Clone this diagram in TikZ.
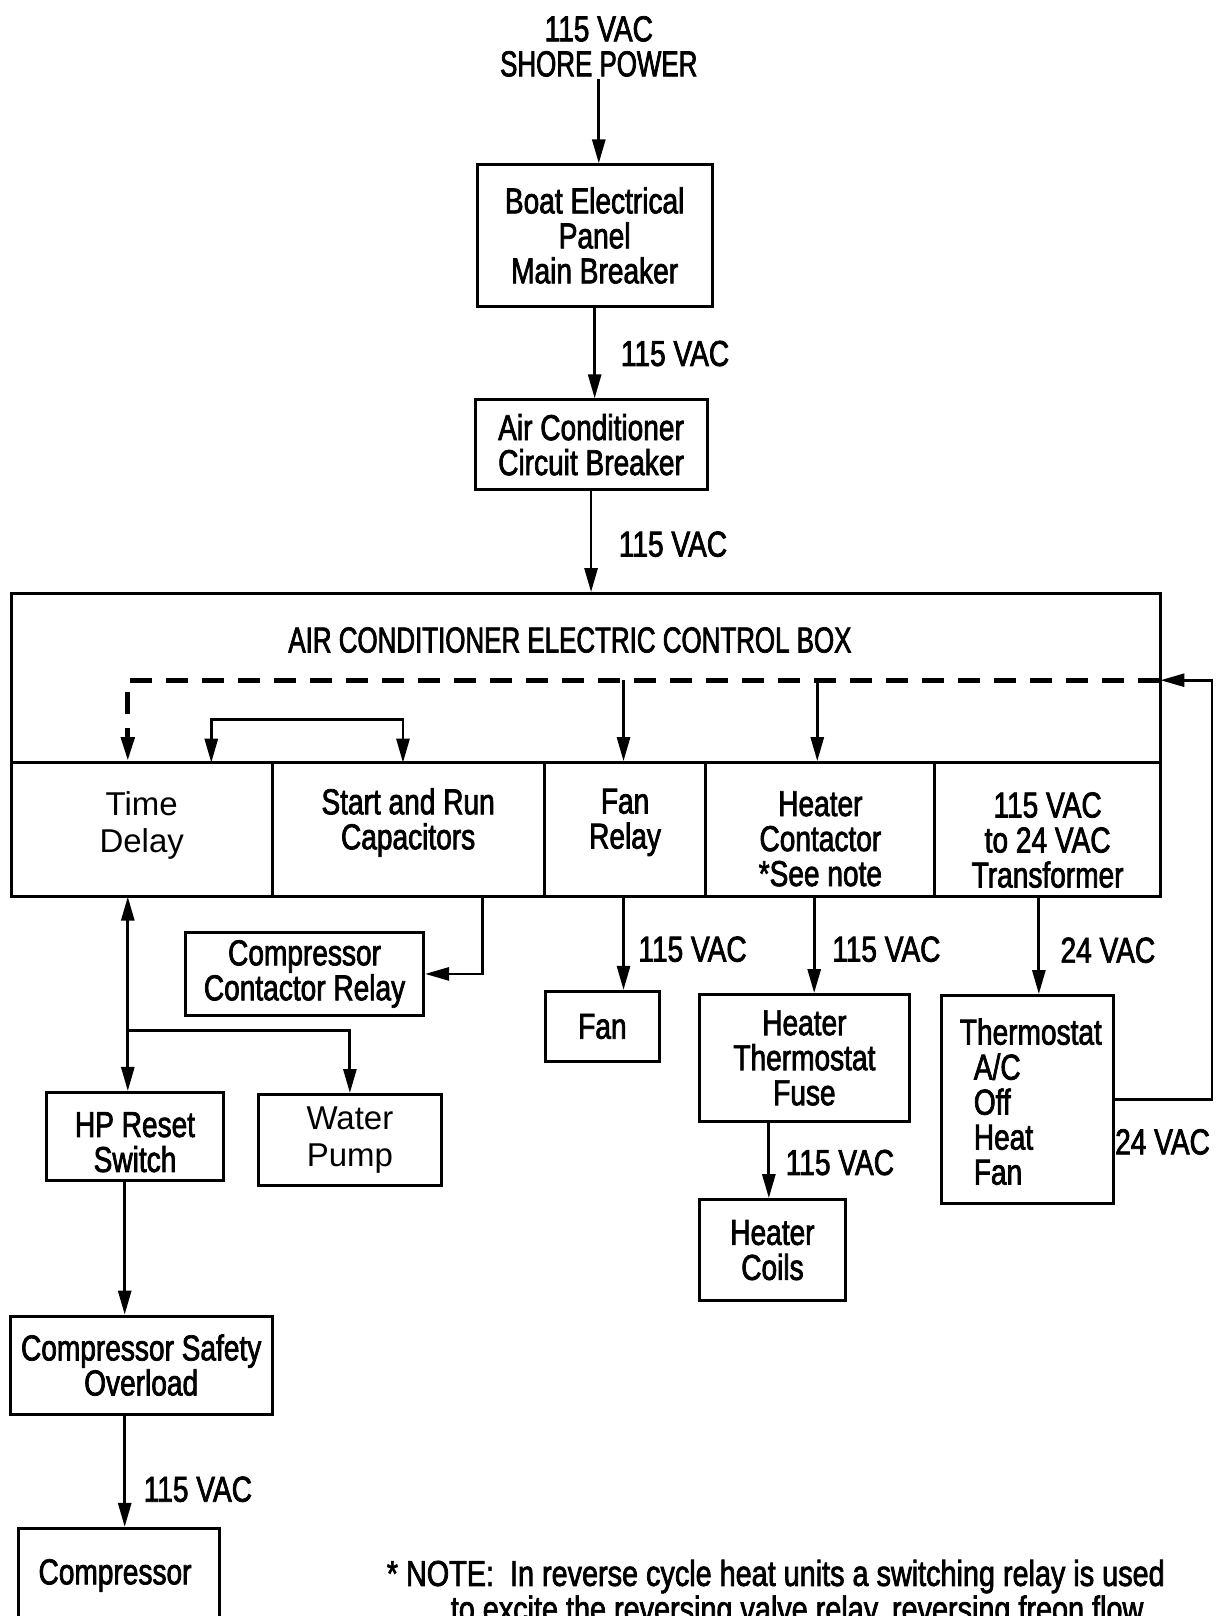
\documentclass[tikz,border=0pt]{standalone}
\usepackage{fontspec}
\setmainfont{Liberation Sans}[FakeStretch=0.78,FakeBold=2]
\newfontfamily\capsfont{Liberation Sans}[FakeStretch=0.72,FakeBold=2]
\newfontfamily\notefont{Liberation Sans}[FakeStretch=0.80,FakeBold=2]
\newfontfamily\widefont{Liberation Sans}
\usetikzlibrary{arrows.meta}
\newcommand\lblfont{\fontsize{18}{17.5}\selectfont}
\newcommand\tdfont{\widefont\fontsize{16.5}{18.5}\selectfont}
\begin{document}
\begin{tikzpicture}[x=0.5153pt,y=-0.5153pt,
  box/.style={draw,line width=1.5pt,inner sep=0pt,align=center,font=\lblfont},
  sz/.style 2 args={minimum width=#1*0.5153pt,minimum height=#2*0.5153pt},
  plain/.style={align=center,font=\lblfont,inner sep=1pt},
  wide/.style={font=\tdfont},
  tip/.tip={Triangle[length=12pt,width=6.5pt]},
  arr/.style={line width=1.4pt,-tip},
  arrb/.style={line width=1.4pt,tip-tip},
  dsh/.style={line width=2.4pt,dash pattern=on 11pt off 7pt,-tip}]
\useasboundingbox (0,0) rectangle (1181,1568);
% top chain
\node[plain] (shore) at (581,45) {115 VAC\\{\capsfont SHORE POWER}};
\node[box,sz={228}{137}] (b1) at (577,228.5) {Boat Electrical\\Panel\\Main Breaker};
\node[box,sz={225}{87}] (b2) at (573.5,431.5) {Air Conditioner\\Circuit Breaker};
\node[plain] (v1) at (655,343) {115 VAC};
\node[plain] (v2) at (653,528) {115 VAC};
% control box
\node[box,sz={1115}{294}] (cbox) at (568.5,723) {};
\node[plain,font=\lblfont\capsfont] (title) at (553,621) {AIR CONDITIONER ELECTRIC CONTROL BOX};
\node[box,sz={253}{130},label={[plain,wide,yshift=2pt]center:{Time\\Delay}}] (td) at (137.5,805) {};
\node[box,sz={264}{130},label={[plain,yshift=3.6pt]center:{Start and Run\\Capacitors}}] (sr) at (396,805) {};
\node[box,sz={157}{130},label={[plain,yshift=3.6pt]center:{Fan\\Relay}}] (fr) at (606.5,805) {};
\node[box,sz={222}{130},label={[plain,yshift=-4.6pt]center:{Heater\\Contactor\\*See note}}] (hc) at (796,805) {};
\node[box,sz={219}{130},label={[plain,yshift=-5.2pt]center:{115 VAC\\to 24 VAC\\Transformer}}] (tr) at (1016.5,805) {};
% lower boxes
\node[box,sz={231}{80}] (ccr) at (295.5,945) {Compressor\\Contactor Relay};
\node[box,sz={111}{68}] (fan) at (584.5,996) {Fan};
\node[box,sz={203}{123}] (htf) at (780.5,1026.5) {Heater\\Thermostat\\Fuse};
\node[box,sz={141}{98}] (coils) at (749.5,1213) {Heater\\Coils};
\node[box,sz={166}{202}] (th) at (997,1067) {};
\node[plain,align=left,anchor=west] (tht) at (929,1069) {Thermostat\\\hspace*{7pt}A/C\\\hspace*{7pt}Off\\\hspace*{7pt}Heat\\\hspace*{7pt}Fan};
\node[box,sz={172}{85},label={[plain,yshift=-3pt]center:{HP Reset\\Switch}}] (hp) at (131,1102.5) {};
\node[box,wide,sz={177}{88}] (wp) at (339.5,1106) {Water\\Pump};
\node[box,sz={254}{95}] (cso) at (137,1324.5) {Compressor Safety\\Overload};
\node[box,sz={195}{167},label={[plain,xshift=-2pt,yshift=19.5pt]center:Compressor}] (comp) at (115.5,1566.5) {};
% voltage labels
\node[plain] (v3) at (672,921) {115 VAC};
\node[plain] (v4) at (860,921) {115 VAC};
\node[plain] (v5) at (815,1128) {115 VAC};
\node[plain] (v6) at (1075,922) {24 VAC};
\node[plain] (v7) at (1128,1108) {24 VAC};
\node[plain] (v8) at (192,1445) {115 VAC};
% note
\node[plain,align=left,anchor=west,font=\notefont\fontsize{18}{16}\selectfont] (note) at (373,1547) {* NOTE:\ \ In reverse cycle heat units a switching relay is used\\\hspace*{32pt}to excite the reversing valve relay, reversing freon flow.};
% coordinates
\coordinate (dR) at (1126,660);
\coordinate (dL) at (124,660);
\coordinate (rr) at (1176,660);
\coordinate (fT) at (605,660);
\coordinate (hT) at (793,660);
\coordinate (sA) at (205,740);
\coordinate (sB) at (391,740);
\coordinate (tdS) at (124,870);
\coordinate (br) at (124,1000);
\coordinate (srS) at (468,870);
\coordinate (frS) at (605,870);
\coordinate (hcS) at (790,870);
\coordinate (trS) at (1008,870);
\coordinate (fxS) at (746,1088);
\coordinate (hpS) at (121,1145);
\coordinate (csS) at (121,1372);
% connectors
\draw[arr] (shore.south) -- (shore.south |- b1.north);
\draw[arr] (b1.south) -- (b1.south |- b2.north);
\draw[arr] (b2.south) -- (b2.south |- cbox.north);
\draw[dsh] (dR) -- (dL) -- (dL |- td.north);
\draw[arr] (fT) -- (fT |- fr.north);
\draw[arr] (hT) -- (hT |- hc.north);
\draw[arrb] (sA) -- ++(0,-42) -| (sB);
\draw[arr] (th.east) -| (rr) -- (dR);
\draw[arrb] (tdS) -- (tdS |- hp.north);
\draw[arr] (br) -| (wp.north);
\draw[arr] (srS) |- (ccr.east);
\draw[arr] (frS) -- (frS |- fan.north);
\draw[arr] (hcS) -- (hcS |- htf.north);
\draw[arr] (fxS) -- (fxS |- coils.north);
\draw[arr] (trS) -- (trS |- th.north);
\draw[arr] (hpS) -- (hpS |- cso.north);
\draw[arr] (csS) -- (csS |- comp.north);
\end{tikzpicture}
\end{document}
